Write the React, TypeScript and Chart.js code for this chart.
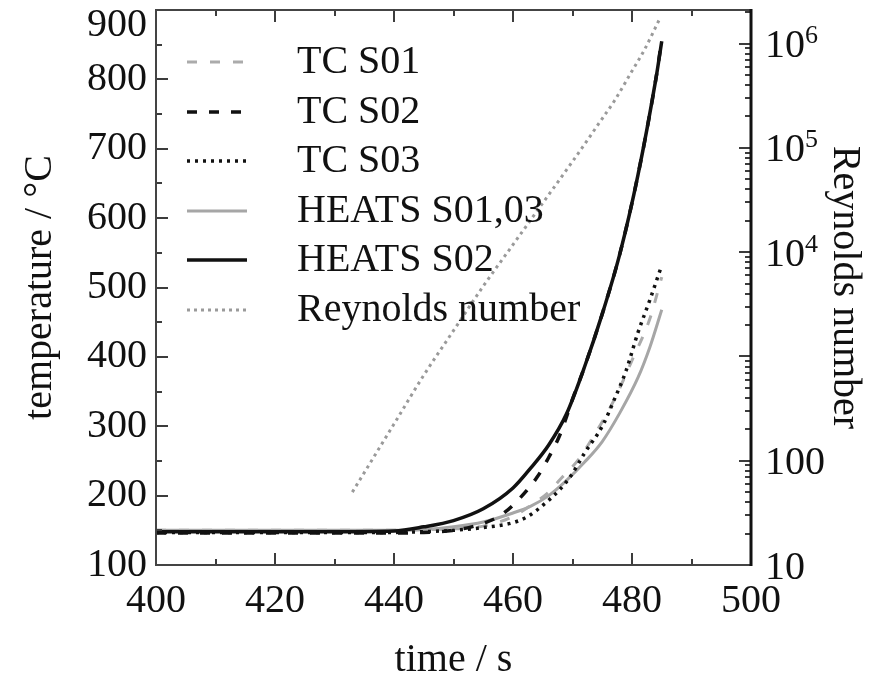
import React, { useEffect, useRef } from "react";
import { Chart, registerables } from "chart.js";

Chart.register(...registerables);

// ---- Data ----
const tcS01Time = [400, 410, 420, 430, 440, 445, 450, 455, 460, 463, 466, 468, 471, 473, 477, 480, 483, 485];
const tcS01Temp = [150, 150, 150, 150, 150, 151, 152, 156, 170, 186, 205, 224, 252, 278, 338, 395, 455, 515];

const tcS02Time = [400, 410, 420, 430, 440, 445, 450, 455, 458, 461, 464, 466, 468, 470, 472, 475, 478, 481, 484, 485];
const tcS02Temp = [146, 146, 146, 146, 146, 147, 150, 160, 172, 195, 226, 255, 290, 339, 385, 462, 550, 662, 800, 857];

const tcS03Time = [400, 410, 420, 430, 440, 445, 450, 455, 460, 462.5, 465, 468, 470, 472, 475, 477, 479, 481, 483, 485];
const tcS03Temp = [147, 147, 147, 147, 147, 148, 150, 154, 161, 170, 186, 210, 232, 261, 300, 338, 380, 435, 482, 532];

const heatsS0103Time = [400, 410, 420, 430, 440, 445, 450, 455, 460, 463, 466, 469, 472, 475, 478, 481, 483, 485];
const heatsS0103Temp = [150, 150, 150, 150, 150, 151, 155, 162, 175, 185, 200, 222, 248, 278, 320, 370, 414, 468];

const heatsS02Time = [400, 410, 420, 430, 440, 445, 450, 455, 460, 463, 466, 469, 472, 475, 478, 481, 484, 485];
const heatsS02Temp = [148, 148, 148, 148, 149, 155, 164, 181, 211, 240, 273, 318, 385, 462, 550, 662, 800, 855];

const reynoldsTime = [433, 440, 445, 450, 455, 460, 465, 470, 475, 477, 480, 482, 484.7];
const reynoldsValue = [50, 225, 660, 1770, 4720, 11800, 29600, 74000, 191000, 280000, 546000, 853000, 1750000];

const legendLabels = ["TC S01", "TC S02", "TC S03", "HEATS S01,03", "HEATS S02", "Reynolds number"];
const rightTickLabels = [10, 100, 10000, 100000, 1000000];

const FONT = "'Liberation Serif', 'Times New Roman', serif";

const pts = (xs: number[], ys: number[]) => xs.map((x, i) => ({ x, y: ys[i] }));

const styles = [
  { color: "#ababab", dash: [10, 13], width: 3 },
  { color: "#111111", dash: [10, 12], width: 3.5 },
  { color: "#111111", dash: [3, 5], width: 3.5 },
  { color: "#a6a6a6", dash: [] as number[], width: 3 },
  { color: "#111111", dash: [] as number[], width: 3.5 },
  { color: "#9a9a9a", dash: [3, 4], width: 3 },
];

const decorPlugin = {
  id: "decor",
  afterDraw(chart: any) {
    const { ctx, chartArea: a, scales } = chart;
    const sx = scales.x, sy = scales.y, sr = scales.y2;
    ctx.save();
    // tick marks (inward)
    ctx.strokeStyle = "#3c3c3c";
    ctx.lineWidth = 2;
    ctx.setLineDash([]);
    ctx.beginPath();
    for (let t = sx.min; t <= sx.max + 0.001; t += 10) {
      const px = Math.round(sx.getPixelForValue(t));
      const len = Math.round(t) % 20 === 0 ? 12 : 6;
      ctx.moveTo(px, a.bottom);
      ctx.lineTo(px, a.bottom - len);
      ctx.moveTo(px, a.top);
      ctx.lineTo(px, a.top + len);
    }
    for (let v = sy.min; v <= sy.max + 0.001; v += 50) {
      const py = Math.round(sy.getPixelForValue(v));
      const len = Math.round(v) % 100 === 0 ? 12 : 6;
      ctx.moveTo(a.left, py);
      ctx.lineTo(a.left + len, py);
    }
    for (let d = 1; d <= 6; d++) {
      for (let m = 1; m <= 9; m++) {
        const v = m * Math.pow(10, d);
        if (v < sr.min || v > sr.max) continue;
        const py = Math.round(sr.getPixelForValue(v));
        const len = m === 1 ? 12 : 6;
        ctx.moveTo(a.right, py);
        ctx.lineTo(a.right - len, py);
      }
    }
    ctx.stroke();

    // frame
    ctx.strokeStyle = "#444444";
    ctx.lineWidth = 2;
    ctx.beginPath();
    ctx.moveTo(a.right, a.top);
    ctx.lineTo(a.left, a.top);
    ctx.lineTo(a.left, a.bottom);
    ctx.lineTo(a.right, a.bottom);
    ctx.stroke();
    ctx.strokeStyle = "#111111";
    ctx.lineWidth = 3;
    ctx.beginPath();
    ctx.moveTo(a.right, a.top - 1);
    ctx.lineTo(a.right, a.bottom + 1);
    ctx.stroke();

    // top-most left label, nudged down inside the canvas (as in the reference)
    ctx.fillStyle = "#111111";
    ctx.font = `40px ${FONT}`;
    ctx.textAlign = "right";
    ctx.textBaseline = "middle";
    ctx.fillText(String(sy.max), a.left - 9, a.top + 15.5);

    // right axis labels
    ctx.textAlign = "left";
    ctx.textBaseline = "alphabetic";
    for (const v of rightTickLabels) {
      const py = sr.getPixelForValue(v);
      const e = Math.round(Math.log10(v));
      const lx = a.right + 14;
      ctx.font = `40px ${FONT}`;
      if (e <= 2) {
        ctx.fillText(String(v), lx, py + 13.5);
      } else {
        ctx.fillText("10", lx, py + 13.5);
        const w = ctx.measureText("10").width;
        ctx.font = `26px ${FONT}`;
        ctx.fillText(String(e), lx + w, py - 0.5);
      }
    }

    // legend
    const lx0 = a.left + 31;
    const lx1 = a.left + 91;
    const tx = a.left + 141;
    const ly0 = a.top + 52;
    const step = 49.6;
    ctx.font = `40px ${FONT}`;
    ctx.textBaseline = "middle";
    legendLabels.forEach((label, i) => {
      const st = styles[i];
      const yy = Math.round(ly0 + i * step);
      ctx.strokeStyle = st.color;
      ctx.lineWidth = st.width;
      ctx.setLineDash(st.dash);
      ctx.beginPath();
      ctx.moveTo(lx0, yy);
      ctx.lineTo(lx1, yy);
      ctx.stroke();
      ctx.setLineDash([]);
      ctx.fillStyle = "#111111";
      ctx.fillText(label, tx, yy);
    });
    ctx.restore();
  },
};

export default function App() {
  const ref = useRef<HTMLCanvasElement | null>(null);
  useEffect(() => {
    if (!ref.current) return;
    const series = [
      pts(tcS01Time, tcS01Temp),
      pts(tcS02Time, tcS02Temp),
      pts(tcS03Time, tcS03Temp),
      pts(heatsS0103Time, heatsS0103Temp),
      pts(heatsS02Time, heatsS02Temp),
      pts(reynoldsTime, reynoldsValue),
    ];
    const datasets = series.map((data, i) => ({
      label: legendLabels[i],
      data,
      yAxisID: i === 5 ? "y2" : "y",
      borderColor: styles[i].color,
      borderWidth: styles[i].width,
      borderDash: styles[i].dash,
      borderCapStyle: "butt" as const,
      pointRadius: 0,
      fill: false,
      cubicInterpolationMode: "monotone" as const,
      order: [3, 2, 1, 4, 0, 5][i],
    }));
    const chart = new Chart(ref.current, {
      type: "line",
      data: { datasets },
      plugins: [decorPlugin],
      options: {
        animation: false,
        responsive: false,
        maintainAspectRatio: false,
        layout: { padding: { top: 2, left: 0, right: 0, bottom: 0 } },
        plugins: { legend: { display: false }, tooltip: { enabled: false } },
        scales: {
          x: {
            type: "linear",
            min: 400,
            max: 500,
            border: { display: false },
            grid: { display: false, drawTicks: false },
            ticks: { stepSize: 20, padding: 12, color: "#111", font: { family: FONT, size: 40 }, maxRotation: 0 },
            title: {
              display: true,
              text: "time / s",
              color: "#111",
              font: { family: FONT, size: 40 },
              padding: { top: 0, bottom: -8 },
            },
            afterFit: (s: any) => {
              s.height = 111;
              s.paddingLeft = 0;
              s.paddingRight = 0;
            },
          },
          y: {
            type: "linear",
            position: "left",
            min: 100,
            max: 900,
            border: { display: false },
            grid: { display: false, drawTicks: false },
            ticks: {
              stepSize: 100,
              padding: 9,
              color: "#111",
              font: { family: FONT, size: 40 },
              callback: (v: any) => (Number(v) === 900 ? "" : String(v)),
            },
            title: {
              display: true,
              text: "temperature / °C",
              color: "#111",
              font: { family: FONT, size: 40 },
              padding: { top: 8, bottom: 0 },
            },
            afterFit: (s: any) => {
              s.width = 148;
              s.paddingTop = 0;
              s.paddingBottom = 0;
            },
          },
          y2: {
            type: "logarithmic",
            position: "right",
            min: 10,
            max: 2.1e6,
            border: { display: false },
            grid: { display: false, drawTicks: false },
            ticks: { display: false },
            title: {
              display: true,
              text: "Reynolds number",
              color: "#111",
              font: { family: FONT, size: 40 },
              padding: { top: 0, bottom: 0 },
            },
            afterFit: (s: any) => {
              s.width = 117;
              s.paddingTop = 0;
              s.paddingBottom = 0;
            },
          },
        },
      },
    });
    return () => chart.destroy();
  }, []);
  return (
    <div style={{ width: 860, height: 668 }}>
      <canvas ref={ref} width={860} height={668} style={{ display: "block" }} />
    </div>
  );
}
